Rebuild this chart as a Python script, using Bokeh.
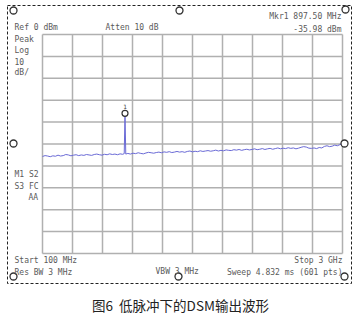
from bokeh.plotting import figure
from bokeh.models import Range1d
from bokeh.core.properties import value
from bokeh.embed import file_html
from bokeh.resources import INLINE

# ---- data ----
start_mhz = 100
stop_mhz = 3000
ref_dbm = 0
bottom_dbm = -100
freq_mhz = list(range(100, 900, 25)) + [890, 897.5, 905] + list(range(925, 3001, 25))
level_dbm = [
    # 100 .. 875
    -55.7, -55.3, -55.5, -55.8, -55.4, -55.6, -55.1, -55.5,
    -55.3, -54.8, -55.0, -55.4, -55.1, -54.9, -55.3, -55.0,
    -55.2, -54.8, -55.0, -55.2, -54.8, -54.6, -54.9, -55.1,
    -54.7, -54.9, -54.5, -54.8, -54.6, -54.9, -54.5, -54.7,
    # 890, 897.5 (marker), 905
    -54.4, -35.98, -54.6,
    # 925 .. 1100
    -54.3, -54.6, -54.2, -54.4, -54.0, -54.3, -54.5, -54.1,
    # 1125 .. 1300
    -53.8, -54.0, -54.2, -53.9, -53.7, -54.0, -53.6, -53.8,
    # 1325 .. 1500
    -53.5, -53.9, -53.7, -53.4, -53.7, -53.5, -53.8, -53.4,
    # 1525 .. 1700
    -53.2, -53.6, -53.3, -53.5, -53.1, -53.4, -53.2, -53.0,
    # 1725 .. 1900
    -53.3, -53.1, -52.8, -53.2, -52.9, -53.1, -52.7, -52.9,
    # 1925 .. 2100
    -53.0, -52.6, -52.8, -52.5, -52.9, -52.6, -52.4, -52.7,
    # 2125 .. 2300
    -52.5, -52.2, -52.6, -52.4, -52.1, -52.5, -52.2, -52.0,
    # 2325 .. 2500
    -52.4, -52.1, -51.8, -52.2, -51.9, -52.1, -51.7, -52.0,
    # 2525 .. 2700
    -51.8, -52.2, -51.9, -51.5, -51.2, -51.4, -51.9, -52.0,
    # 2725 .. 2900
    -51.8, -52.1, -51.6, -51.8, -51.1, -50.8, -51.2, -51.0,
    # 2925 .. 3000
    -50.5, -50.8, -50.3, -49.9,
]
marker_freq = [897.5]
marker_level = [-35.98]
x_ticks = [start_mhz + (stop_mhz - start_mhz) * i / 10 for i in range(11)]
y_ticks = [ref_dbm - 10 * i for i in range(11)]

# ---- pixel <-> data mapping (frame covers the whole canvas) ----
W, H = 359, 317
PX_L, PX_R, PX_T, PX_B = 42, 342, 34, 253
mhz_per_px = (stop_mhz - start_mhz) / (PX_R - PX_L)
db_per_px = (ref_dbm - bottom_dbm) / (PX_B - PX_T)


def dx(px):
    return start_mhz + (px - PX_L) * mhz_per_px


def dy(py):
    return ref_dbm - (py - PX_T) * db_per_px


p = figure(width=W, height=H, output_backend="svg", toolbar_location=None,
           x_range=Range1d(dx(0), dx(W)), y_range=Range1d(dy(H), dy(0)),
           x_axis_location=None, y_axis_location=None, min_border=0)
p.grid.visible = False
p.outline_line_color = None
p.background_fill_color = "white"
p.border_fill_color = "white"

# grid
grid_col = "#b0b0b0"
p.segment(x0=x_ticks, y0=[bottom_dbm] * len(x_ticks), x1=x_ticks, y1=[ref_dbm] * len(x_ticks),
          line_color=grid_col, line_width=1.5)
p.segment(x0=[start_mhz] * len(y_ticks), y0=y_ticks, x1=[stop_mhz] * len(y_ticks), y1=y_ticks,
          line_color=grid_col, line_width=1.5)

# trace
p.line(freq_mhz, level_dbm, line_color="#6a6ad6", line_width=1.0)

# marker
p.scatter(marker_freq, marker_level, size=6, marker="circle", fill_color="white",
          line_color="#333333", line_width=1.2)
p.text(marker_freq, marker_level, text=["1"], text_font=value("DejaVu Sans Mono"),
       text_font_size="6px", text_align="center", text_baseline="bottom",
       y_offset=-4, text_color="#444444")

# dashed selection box and handles
p.quad(left=[dx(7)], right=[dx(351)], top=[dy(5)], bottom=[dy(283)], fill_alpha=0,
       line_color="#222222", line_dash="3 2", line_width=1)
hx = [13, 179, 345, 13, 344, 13, 178, 344]
hy = [10, 10, 9, 143, 143, 276, 276, 276]
p.scatter([dx(v) for v in hx], [dy(v) for v in hy], size=7, marker="circle",
          fill_color="white", line_color="#333333", line_width=1.3)

# annotations
txt_col = "#5a5a5a"
mono = value("DejaVu Sans Mono")


def label(px, py, s, align="left", size="8px"):
    p.text([dx(px)], [dy(py)], text=[s], text_font=mono, text_font_size=size,
           text_align=align, text_baseline="middle", text_color=txt_col)


label(14, 27, "Ref 0 dBm")
label(105, 27, "Atten 10 dB")
label(14, 39, "Peak")
label(14, 50, "Log")
label(14, 61, "10")
label(14, 72, "dB/")
label(341, 16, "Mkr1 897.50 MHz", "right")
label(341, 29, "-35.98 dBm", "right")
label(14, 174, "M1 S2")
label(14, 186, "S3 FC")
label(28, 197, "AA")
label(14, 260, "Start 100 MHz")
label(14, 272, "Res BW 3 MHz")
label(155, 271, "VBW 3 MHz")
label(342, 260, "Stop 3 GHz", "right")
label(342, 272, "Sweep 4.832 ms (601 pts)", "right")

# caption
p.text([dx(180)], [dy(304)], text=["图6\u00a0\u00a0低脉冲下的DSM输出波形"],
       text_font=value("Noto Sans CJK SC"), text_font_size="13.5px",
       text_align="center", text_baseline="middle", text_color="#222222")

open("out.html", "w").write(file_html(p, INLINE))
